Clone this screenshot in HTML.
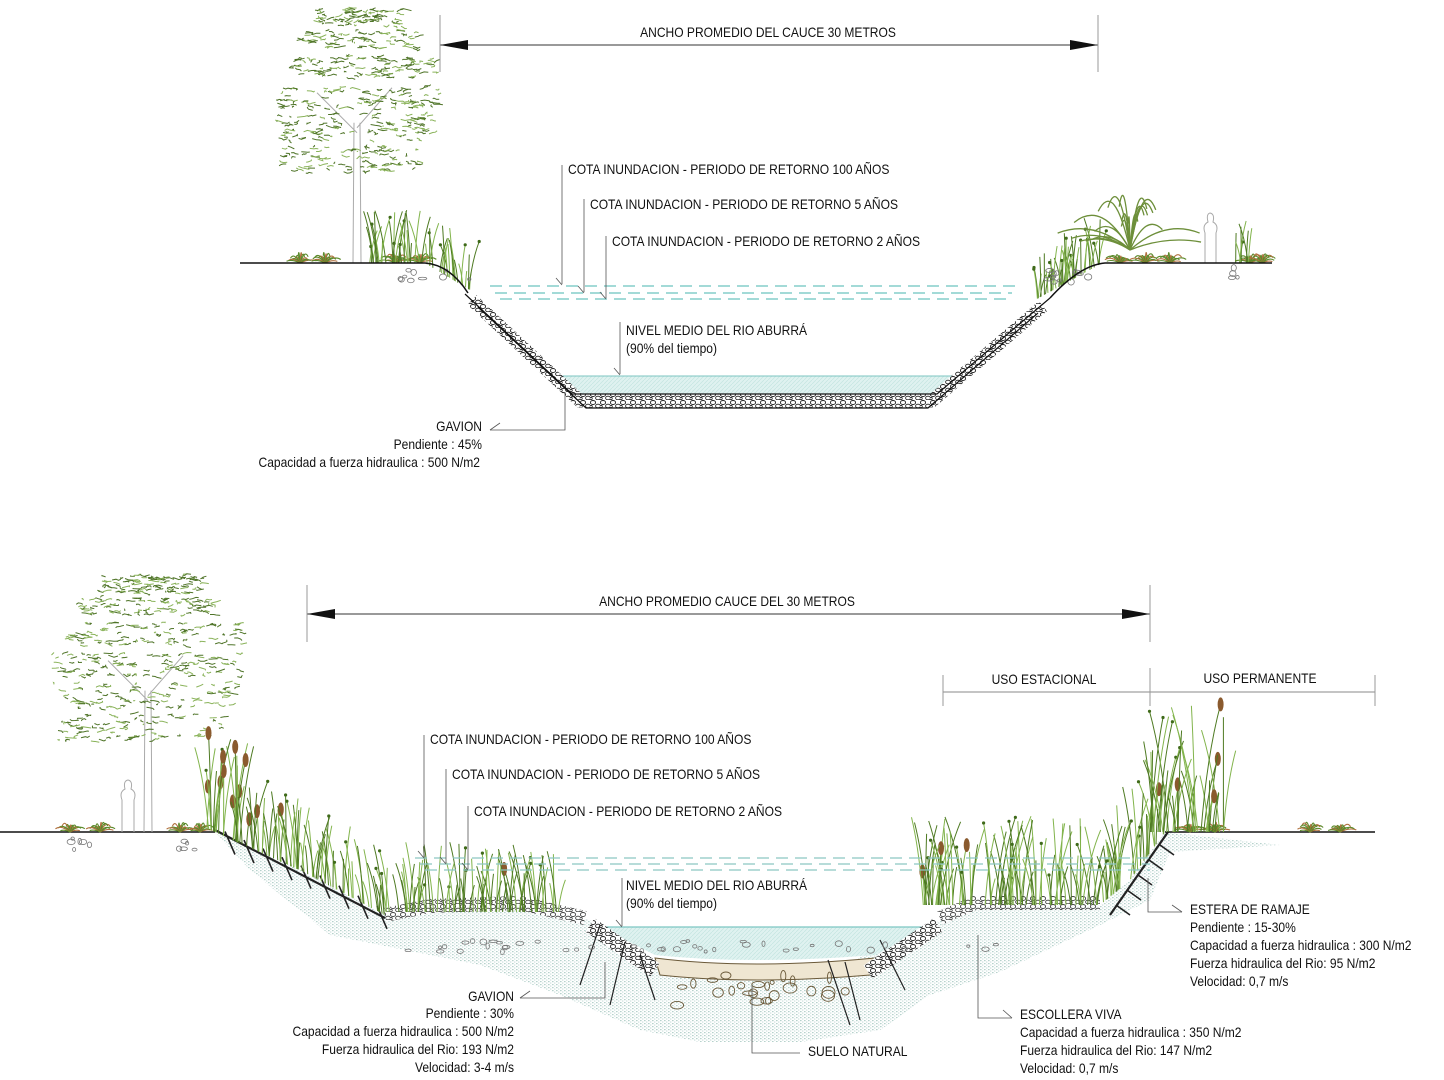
<!DOCTYPE html>
<html><head><meta charset="utf-8">
<style>
html,body{margin:0;padding:0;background:#fff;}
svg{display:block;}
text{font-family:"Liberation Sans Narrow","Liberation Sans",sans-serif;font-size:14px;fill:#111;}
</style></head>
<body>
<svg id="s" width="1444" height="1080" viewBox="0 0 1444 1080" xmlns="http://www.w3.org/2000/svg">
<defs>
<pattern id="stones" width="10" height="8" patternUnits="userSpaceOnUse">
<rect width="10" height="8" fill="#fff"/>
<ellipse cx="3" cy="2.5" rx="2.6" ry="2" fill="none" stroke="#222" stroke-width="0.9"/>
<ellipse cx="8" cy="6" rx="2.4" ry="1.8" fill="none" stroke="#222" stroke-width="0.9"/>
<ellipse cx="1" cy="6.5" rx="1.3" ry="1.2" fill="none" stroke="#222" stroke-width="0.8"/>
</pattern>
<pattern id="stip" width="4" height="3" patternUnits="userSpaceOnUse">
<rect x="0" y="0" width="1.6" height="1.2" fill="#b6d2cc"/>
<rect x="2" y="1.5" width="1.4" height="1.1" fill="#c7ddd8"/>
</pattern>
<pattern id="wat" width="4" height="4" patternUnits="userSpaceOnUse">
<rect width="4" height="4" fill="#dff2f0"/>
<path d="M0,4 L4,0" stroke="#c4e5e1" stroke-width="0.7"/>
</pattern>
</defs>

<!-- ============ TOP SECTION ============ -->
<g id="veg1"></g>
<polygon points="545,376 952,376 935,394 575,394" fill="url(#wat)" stroke="none"/>
<line x1="545" y1="376" x2="952" y2="376" stroke="#7cc6c2" stroke-width="1"/>
<path d="M472,300 L580,401 L932,401 L1043,306" fill="none" stroke="url(#stones)" stroke-width="13"/>
<path d="M465,294 L572,394 L937,394 L1050,298" fill="none" stroke="#111" stroke-width="1.2"/>
<path d="M478,307 L586,408 L928,408 L1038,313" fill="none" stroke="#111" stroke-width="1.2"/>
<path d="M240,263 L425,263 Q450,265 468,293" fill="none" stroke="#111" stroke-width="1.5"/>
<path d="M1050,298 Q1080,265 1105,263 L1272,263" fill="none" stroke="#111" stroke-width="1.5"/>
<g stroke="#6cc3bf" stroke-width="1.2" stroke-dasharray="12,7">
<line x1="490" y1="286" x2="1015" y2="286"/>
<line x1="495" y1="293" x2="1012" y2="293"/>
<line x1="500" y1="299" x2="1010" y2="299"/>
</g>
<g stroke="#333" stroke-width="1">
<line x1="440" y1="45" x2="1098" y2="45"/>
<line x1="440" y1="15" x2="440" y2="72" stroke="#999"/>
<line x1="1098" y1="15" x2="1098" y2="72" stroke="#999"/>
</g>
<polygon points="440,45 468,40 468,50" fill="#111"/>
<polygon points="1098,45 1070,40 1070,50" fill="#111"/>
<text x="768" y="37" text-anchor="middle">ANCHO PROMEDIO DEL CAUCE 30 METROS</text>
<g stroke="#555" stroke-width="0.8" fill="none">
<line x1="562" y1="165" x2="562" y2="284"/><line x1="556" y1="278" x2="562" y2="285"/>
<line x1="584" y1="199" x2="584" y2="292"/><line x1="578" y1="286" x2="584" y2="293"/>
<line x1="606" y1="236" x2="606" y2="298"/><line x1="600" y1="292" x2="606" y2="299"/>
<line x1="620" y1="322" x2="620" y2="374"/><line x1="614" y1="368" x2="620" y2="375"/>
<path d="M490,430 L565,430 L565,392"/><path d="M490,430 L500,423"/>
</g>
<text x="568" y="174">COTA INUNDACION - PERIODO DE RETORNO 100 AÑOS</text>
<text x="590" y="209">COTA INUNDACION - PERIODO DE RETORNO 5 AÑOS</text>
<text x="612" y="246">COTA INUNDACION - PERIODO DE RETORNO 2 AÑOS</text>
<text x="626" y="335">NIVEL MEDIO DEL RIO ABURRÁ</text>
<text x="626" y="353">(90% del tiempo)</text>
<text x="482" y="431" text-anchor="end">GAVION</text>
<text x="482" y="449" text-anchor="end">Pendiente : 45%</text>
<text x="480" y="467" text-anchor="end">Capacidad a fuerza hidraulica : 500 N/m2</text>

<!-- ============ BOTTOM SECTION ============ -->
<path d="M215,832 L300,870 L385,915 L430,910 L520,905 L590,920 L650,962 Q750,972 850,962 L930,925 L975,905 L1100,905 L1130,880 L1165,832 L1280,845 L1170,852 L1150,900 L1100,925 L1000,972 L930,995 L880,1030 L800,1042 L700,1042 L640,1030 L560,995 L480,965 L330,935 L250,870 Z" fill="url(#stip)"/>
<path d="M600,927 L930,927 L875,955 Q750,965 655,955 Z" fill="url(#wat)"/>
<line x1="600" y1="927" x2="930" y2="927" stroke="#7cc6c2" stroke-width="1.2"/>
<path d="M655,958 Q750,970 875,958 L870,975 Q750,985 660,975 Z" fill="#efe6d2" stroke="#6b5a3a" stroke-width="1"/>
<path d="M590,925 L655,970" stroke="url(#stones)" stroke-width="16" fill="none"/>
<path d="M938,925 L868,972" stroke="url(#stones)" stroke-width="16" fill="none"/>
<path d="M385,915 L430,906 L520,903 L585,918" stroke="url(#stones)" stroke-width="14" fill="none" opacity="0.85"/>
<path d="M940,918 L975,903 L1100,903" stroke="url(#stones)" stroke-width="14" fill="none" opacity="0.85"/>
<line x1="0" y1="832" x2="215" y2="832" stroke="#111" stroke-width="1.5"/>
<line x1="1165" y1="832" x2="1375" y2="832" stroke="#111" stroke-width="1.5"/>
<g stroke="#222" stroke-width="1.6" fill="none" id="estera"></g>
<g id="veg2"></g>
<g stroke="#8cc6c2" stroke-width="1.2" stroke-dasharray="12,7">
<line x1="415" y1="858" x2="1150" y2="858"/>
<line x1="420" y1="864" x2="1150" y2="864"/>
<line x1="425" y1="870" x2="1150" y2="870"/>
</g>
<g stroke="#333" stroke-width="1">
<line x1="307" y1="614" x2="1150" y2="614"/>
<line x1="307" y1="585" x2="307" y2="642" stroke="#999"/>
<line x1="1150" y1="585" x2="1150" y2="642" stroke="#999"/>
<line x1="943" y1="692" x2="1375" y2="692" stroke="#888"/>
<line x1="943" y1="675" x2="943" y2="706" stroke="#999"/>
<line x1="1150" y1="668" x2="1150" y2="706" stroke="#999"/>
<line x1="1375" y1="675" x2="1375" y2="706" stroke="#999"/>
</g>
<polygon points="307,614 335,609 335,619" fill="#111"/>
<polygon points="1150,614 1122,609 1122,619" fill="#111"/>
<text x="727" y="606" text-anchor="middle">ANCHO PROMEDIO CAUCE DEL 30 METROS</text>
<text x="1044" y="684" text-anchor="middle">USO ESTACIONAL</text>
<text x="1260" y="683" text-anchor="middle">USO PERMANENTE</text>
<g stroke="#555" stroke-width="0.8" fill="none">
<line x1="424" y1="735" x2="424" y2="857"/><line x1="418" y1="851" x2="424" y2="858"/>
<line x1="446" y1="769" x2="446" y2="863"/><line x1="440" y1="857" x2="446" y2="864"/>
<line x1="468" y1="806" x2="468" y2="869"/><line x1="462" y1="863" x2="468" y2="870"/>
<line x1="622" y1="878" x2="622" y2="926"/><line x1="616" y1="920" x2="622" y2="927"/>
<path d="M520,998 L605,998 L605,962"/><path d="M520,998 L530,991"/>
<path d="M752,985 L752,1053 L800,1053"/>
<path d="M978,935 L978,1018 L1012,1018"/><path d="M1012,1018 L1003,1010"/>
<path d="M1148,878 L1148,912 L1182,912"/><path d="M1182,912 L1172,905"/>
</g>
<text x="430" y="744">COTA INUNDACION - PERIODO DE RETORNO 100 AÑOS</text>
<text x="452" y="779">COTA INUNDACION - PERIODO DE RETORNO 5 AÑOS</text>
<text x="474" y="816">COTA INUNDACION - PERIODO DE RETORNO 2 AÑOS</text>
<text x="626" y="890">NIVEL MEDIO DEL RIO ABURRÁ</text>
<text x="626" y="908">(90% del tiempo)</text>
<text x="514" y="1001" text-anchor="end">GAVION</text>
<text x="514" y="1018" text-anchor="end">Pendiente : 30%</text>
<text x="514" y="1036" text-anchor="end">Capacidad a fuerza hidraulica : 500 N/m2</text>
<text x="514" y="1054" text-anchor="end">Fuerza hidraulica del Rio: 193 N/m2</text>
<text x="514" y="1072" text-anchor="end">Velocidad: 3-4 m/s</text>
<text x="808" y="1056">SUELO NATURAL</text>
<text x="1020" y="1019">ESCOLLERA VIVA</text>
<text x="1020" y="1037">Capacidad a fuerza hidraulica : 350 N/m2</text>
<text x="1020" y="1055">Fuerza hidraulica del Rio: 147 N/m2</text>
<text x="1020" y="1073">Velocidad: 0,7 m/s</text>
<text x="1190" y="914">ESTERA DE RAMAJE</text>
<text x="1190" y="932">Pendiente : 15-30%</text>
<text x="1190" y="950">Capacidad a fuerza hidraulica : 300 N/m2</text>
<text x="1190" y="968">Fuerza hidraulica del Rio: 95 N/m2</text>
<text x="1190" y="986">Velocidad: 0,7 m/s</text>
</svg>
<script>
(function(){
// condense text to mimic narrow font
var ts=document.querySelectorAll('text');
for(var i=0;i<ts.length;i++){var t=ts[i];var L=t.getComputedTextLength();
 if(L>0){t.setAttribute('textLength',(L*0.86).toFixed(1));t.setAttribute('lengthAdjust','spacingAndGlyphs');}}
var seed=7;function r(){seed=(seed*16807)%2147483647;return (seed-1)/2147483646;}
var NS="http://www.w3.org/2000/svg";
function el(p,t,a){var e=document.createElementNS(NS,t);for(var k in a)e.setAttribute(k,a[k]);p.appendChild(e);return e;}
var v1=document.getElementById('veg1'),v2=document.getElementById('veg2');
function tree(g,cx,top,base,w){
  var trunkTop=top+(base-top)*0.45;
  el(g,'path',{d:'M'+(cx-4)+','+base+' L'+(cx-3)+','+trunkTop+' M'+(cx+4)+','+base+' L'+(cx+3)+','+trunkTop+' M'+cx+','+(trunkTop+10)+' L'+(cx-40)+','+(trunkTop-30)+' M'+cx+','+(trunkTop+5)+' L'+(cx+35)+','+(trunkTop-35),stroke:'#aaa','stroke-width':1,fill:'none'});
  var h=(base-top)*0.72;
  var tiers=[[0.0,0.10,0.55,0],[0.12,0.22,0.75,0],[0.26,0.38,0.9,0.05],[0.42,0.55,1.0,0],[0.58,0.72,0.95,-0.05],[0.75,0.9,0.85,-0.1]];
  for(var i=0;i<520;i++){
    var t=tiers[Math.floor(r()*tiers.length)];
    var f=t[0]+r()*(t[1]-t[0]);var yy=top+f*h;var half=w*t[2];
    var xx=cx+w*t[3]+(r()*2-1)*half;
    var d='M'+xx.toFixed(1)+','+yy.toFixed(1);
    for(var j=0;j<3;j++){xx+=r()*5-0.5;yy+=r()*3-1.5;d+=' L'+xx.toFixed(1)+','+yy.toFixed(1);}
    el(g,'path',{d:d,stroke:r()<0.6?'#4f7428':'#8ab35a','stroke-width':1,fill:'none'});
  }
}
tree(v1,357,8,263,82);
tree(v2,148,575,832,98);
function grass(g,x0,x1,yf,hmin,hmax,n,brown){
  for(var i=0;i<n;i++){
    var x=x0+r()*(x1-x0),y=yf(x),h=hmin+r()*(hmax-hmin),lean=(r()*2-1)*h*0.25;
    el(g,'path',{d:'M'+x.toFixed(1)+','+y.toFixed(1)+' Q'+(x+lean*0.3).toFixed(1)+','+(y-h*0.6).toFixed(1)+' '+(x+lean).toFixed(1)+','+(y-h).toFixed(1),stroke:r()<0.5?'#4e7a22':'#82b44c','stroke-width':1,fill:'none'});
    if(r()<0.2) el(g,'circle',{cx:(x+lean).toFixed(1),cy:(y-h).toFixed(1),r:1.6,fill:'#3f6a1a'});
    if(brown&&r()<brown) el(g,'ellipse',{cx:(x+lean).toFixed(1),cy:(y-h).toFixed(1),rx:3,ry:7,fill:'#8a5a2e'});
  }
}
function tuft(g,x,y,w){for(var i=0;i<14;i++){var a=-Math.PI*(0.1+0.8*i/13),L=w*0.5*(0.6+r()*0.5);el(g,'path',{d:'M'+x+','+y+' Q'+(x+Math.cos(a)*L*0.6)+','+(y+Math.sin(a)*L*0.9)+' '+(x+Math.cos(a)*L)+','+(y+Math.sin(a)*L*0.4),stroke:i%3?'#5b8a2a':'#b0703e','stroke-width':1.1,fill:'none'});}}
[300,325,395,420,1120,1145,1170,1250,1262].forEach(function(x){tuft(v1,x,263,34);});
grass(v1,365,470,function(x){return x<425?263:263+(x-425)*0.6;},15,55,50,0);
grass(v1,1035,1100,function(x){return 300-(x-1035)*0.55;},15,55,45,0);
grass(v1,1235,1250,function(){return 263;},20,45,8,0);
for(var i=0;i<22;i++){var a=-Math.PI*(0.05+0.9*r()),L=40+r()*40,x=1130,y=250;
 el(v1,'path',{d:'M'+x+','+y+' Q'+(x+Math.cos(a)*L*0.5)+','+(y+Math.sin(a)*L*1.1)+' '+(x+Math.cos(a)*L)+','+(y+Math.sin(a)*L*0.6),stroke:'#6d8f3a','stroke-width':1.3,fill:'none'});}
el(v1,'path',{d:'M1205,263 L1205,233 Q1202,225 1208,222 Q1206,214 1210,213 Q1215,214 1213,222 Q1219,225 1216,233 L1216,263',stroke:'#aaa','stroke-width':1,fill:'none'});
el(v2,'path',{d:'M122,832 L122,800 Q119,792 125,789 Q123,781 128,780 Q133,781 131,789 Q137,792 134,800 L134,832',stroke:'#aaa','stroke-width':1,fill:'none'});
function pebbles(g,x0,x1,y0,n){for(var i=0;i<n;i++){el(g,'ellipse',{cx:x0+r()*(x1-x0),cy:y0+r()*12,rx:1.5+r()*3,ry:1.2+r()*2,fill:'none',stroke:'#777','stroke-width':0.8});}}
pebbles(v1,400,470,270,10);pebbles(v1,1040,1095,270,12);pebbles(v1,1230,1260,266,4);
pebbles(v2,65,90,838,6);pebbles(v2,170,210,838,5);
pebbles(v2,400,1000,940,45);
[70,100,180,200,1310,1340,1190,1215].forEach(function(x){tuft(v2,x,832,32);});
function lb(x){if(x<300)return 832+(x-215)*0.45;if(x<385)return 870+(x-300)*0.53;return 912;}
function rb(x){if(x>1130)return 880-(x-1130)*1.37;if(x>1100)return 905-(x-1100)*0.83;return 905;}
grass(v2,205,240,lb,40,100,25,0.3);
grass(v2,240,560,lb,25,70,140,0.03);
grass(v2,920,1165,rb,25,90,130,0.03);
grass(v2,1150,1225,function(){return 832;},30,130,40,0.2);
var es=document.getElementById('estera');
el(es,'path',{d:'M215,830 L385,918',stroke:'#222','stroke-width':2.2});
for(var i=0;i<9;i++){var x=225+i*19,y=lb(x);el(es,'path',{d:'M'+x+','+(y-5)+' L'+(x+10)+','+(y+18)});}
el(es,'path',{d:'M1168,832 L1110,915',stroke:'#222','stroke-width':2.2});
for(var i=0;i<5;i++){var y=845+i*15,x=1160-i*11;el(es,'path',{d:'M'+x+','+y+' L'+(x+14)+','+(y+10)});}
[[600,925,580,985],[625,942,610,1005],[845,962,860,1020],[880,940,905,990],[640,955,655,1000],[828,960,850,1025]].forEach(function(s){el(es,'path',{d:'M'+s[0]+','+s[1]+' L'+s[2]+','+s[3],'stroke-width':1.2});});
for(var i=0;i<25;i++){el(v2,'ellipse',{cx:670+r()*180,cy:975+r()*35,rx:2+r()*5,ry:2+r()*4,fill:'none',stroke:'#6b5a3a','stroke-width':0.9});}
})();
</script>
</body></html>
